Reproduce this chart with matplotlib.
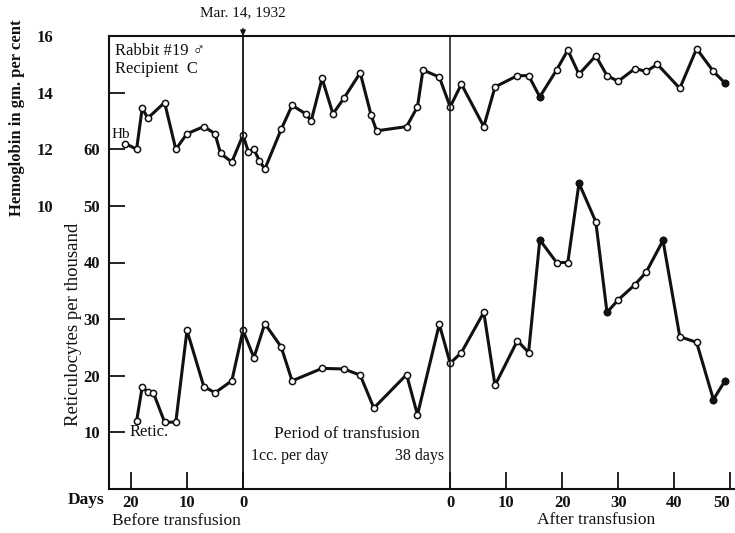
import matplotlib
matplotlib.use("Agg")
import matplotlib.pyplot as plt

plt.rcParams['font.family'] = ['Liberation Serif', 'DejaVu Sans']

# Hemoglobin (gm. per cent), days before / during / after transfusion
hb_before_days = [21, 19, 18, 17, 14, 12, 10, 7, 5, 4, 2, 0]
hb_before = [12.2, 12.0, 13.45, 13.1, 13.65, 12.0, 12.55, 12.8, 12.55, 11.85, 11.55, 12.5]
hb_trans_days = [1, 2, 3, 4, 7, 9, 11.5, 12.5, 14.5, 16.5, 18.5, 21.5, 23.5, 24.5, 30, 32, 33, 36]
hb_trans = [11.9, 12.0, 11.6, 11.3, 12.7, 13.55, 13.25, 13.0, 14.5, 13.25, 13.8, 14.7,
            13.2, 12.65, 12.8, 13.5, 14.8, 14.55]
hb_after_days = [0, 2, 6, 8, 12, 14, 16, 19, 21, 23, 26, 28, 30, 33, 35, 37, 41, 44, 47, 49]
hb_after = [13.5, 14.3, 12.8, 14.2, 14.6, 14.6, 13.85, 14.8, 15.5, 14.65, 15.3, 14.6,
            14.4, 14.85, 14.75, 15.0, 14.15, 15.55, 14.75, 14.35]
hb_filled_after = [16, 49]

# Reticulocytes per thousand
retic_before_days = [19, 18, 17, 16, 14, 12, 10, 7, 5, 2, 0]
retic_before = [12, 18, 17.1, 17, 11.8, 11.8, 28, 18.1, 17, 19.1, 28]
retic_trans_days = [2, 4, 7, 9, 14.5, 18.5, 21.5, 24, 30, 32, 36]
retic_trans = [23.2, 29.2, 25.1, 19.1, 21.3, 21.2, 20.1, 14.3, 20.2, 13.1, 29.1]
retic_after_days = [0, 2, 6, 8, 12, 14, 16, 19, 21, 23, 26, 28, 30, 33, 35, 38, 41, 44, 47, 49]
retic_after = [22.2, 24.1, 31.2, 18.3, 26.2, 24.1, 44.0, 40.0, 40.0, 54.0, 47.2, 31.2,
               33.4, 36.1, 38.3, 43.9, 26.9, 25.9, 15.8, 19.0]
retic_filled_after = [16, 23, 28, 38, 47, 49]

retic_ticks = [10, 20, 30, 40, 50, 60]
hb_ticks = [10, 12, 14, 16]
before_ticks = [20, 10, 0]
after_ticks = [0, 10, 20, 30, 40, 50]

# the 38 days of transfusion take up about 37 days of width on the chart
TRANS_W = 37.0


def pos(before, trans, after):
    xs = [-d for d in before] + [k * TRANS_W / 38 for k in trans] + [TRANS_W + d for d in after]
    return xs


ink = '#111111'
fig = plt.figure(figsize=(7.35, 5.33), dpi=100)
ax = fig.add_axes([109 / 735, 1 - 489 / 533, (745 - 109) / 735, (489 - 36) / 533])
ax.set_xlim(-(243 - 109) / 5.6, (745 - 243) / 5.6)
ax.set_ylim(0, 80)

# Hb is drawn on the reticulocyte scale (Hb 16 = 80)
hb_x = pos(hb_before_days, hb_trans_days, hb_after_days)
hb_y = [v * 5 for v in hb_before + hb_trans + hb_after]
ax.plot(hb_x, hb_y, color=ink, lw=2.2, marker='o', ms=4.5, mfc='white', mec=ink, mew=1.1)
fx = [TRANS_W + d for d in hb_filled_after]
fy = [hb_after[hb_after_days.index(d)] * 5 for d in hb_filled_after]
ax.plot(fx, fy, 'o', color=ink, ms=4.5)

r_x = pos(retic_before_days, retic_trans_days, retic_after_days)
r_y = retic_before + retic_trans + retic_after
ax.plot(r_x, r_y, color=ink, lw=2.2, marker='o', ms=4.5, mfc='white', mec=ink, mew=1.1)
fx = [TRANS_W + d for d in retic_filled_after]
fy = [retic_after[retic_after_days.index(d)] for d in retic_filled_after]
ax.plot(fx, fy, 'o', color=ink, ms=4.5)

ax.axvline(0, color=ink, lw=1.3)
ax.axvline(TRANS_W, color=ink, lw=1.1)

for s in ['top', 'left', 'bottom']:
    ax.spines[s].set_linewidth(1.5)
    ax.spines[s].set_color(ink)
ax.spines['right'].set_visible(False)

ax.set_yticks(retic_ticks + [70])
ax.set_yticklabels([str(v) for v in retic_ticks] + [''])
ax.tick_params(axis='y', direction='in', length=11.5, width=1.3, pad=6.5,
               labelsize=12, colors=ink)

xt = [-d for d in before_ticks] + [TRANS_W + d for d in after_ticks]
ax.set_xticks(xt)
ax.set_xticklabels([str(d) for d in before_ticks + after_ticks])
ax.tick_params(axis='x', direction='in', length=12, width=1.3, pad=4,
               labelsize=12, colors=ink)
for lab in ax.get_xticklabels() + ax.get_yticklabels():
    lab.set_fontweight('bold')
# last day label sits at the right edge of the page
ax.get_xticklabels()[-1].set_horizontalalignment('right')

sec = ax.secondary_yaxis((56 - 109) / 636, functions=(lambda r: r / 5, lambda h: h * 5))
sec.set_yticks(hb_ticks)
sec.tick_params(length=0, pad=2, labelsize=12, colors=ink)
sec.spines['left'].set_visible(False)
for lab in sec.get_yticklabels():
    lab.set_fontweight('bold')

ax.annotate('Mar. 14, 1932', xy=(0, 80), xytext=(0, 84.2), ha='center', va='center',
            fontsize=11, color=ink, annotation_clip=False,
            arrowprops=dict(arrowstyle='-|>', color=ink, lw=1.0, mutation_scale=8,
                            shrinkA=5, shrinkB=0))

ax.text(-22.8, 77.4, 'Rabbit #19 \u2642', fontsize=12, ha='left', va='center', color=ink)
ax.text(-22.8, 74.1, 'Recipient  C', fontsize=12, ha='left', va='center', color=ink)
ax.text(-23.4, 62.6, 'Hb', fontsize=11, ha='left', va='center', color=ink)
ax.text(-20.3, 10, 'Retic.', fontsize=12, ha='left', va='center', color=ink)
ax.text(18.6, 9.8, 'Period of transfusion', fontsize=12.5, ha='center', va='center', color=ink)
ax.text(1.4, 5.9, '1cc. per day', fontsize=11.5, ha='left', va='center', color=ink)
ax.text(35.9, 5.9, '38 days', fontsize=11.5, ha='right', va='center', color=ink)

fig.text(17 / 735, 1 - 118 / 533, 'Hemoglobin in gm. per cent', rotation=90,
         ha='center', va='center', fontsize=12, fontweight='bold', color=ink)
fig.text(73 / 735, 1 - 324 / 533, 'Reticulocytes per thousand', rotation=90,
         ha='center', va='center', fontsize=13.5, color=ink)
fig.text(68 / 735, 1 - 500 / 533, 'Days', ha='left', va='center', fontsize=12.5,
         fontweight='bold', color=ink)
fig.text(176 / 735, 1 - 521 / 533, 'Before transfusion', ha='center', va='center',
         fontsize=12.5, color=ink)
fig.text(596 / 735, 1 - 520 / 533, 'After transfusion', ha='center', va='center',
         fontsize=12.5, color=ink)

fig.savefig('out.png', dpi=100)
